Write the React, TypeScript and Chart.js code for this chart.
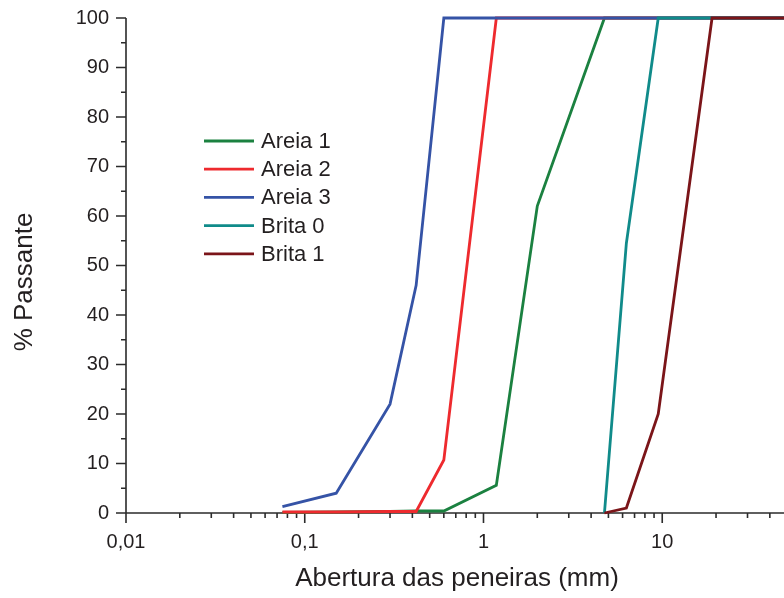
import React, { useEffect, useRef } from 'react';
import { Chart, registerables } from 'chart.js';

Chart.register(...registerables);

// ---- data ----
const sieveSizes = [0.075, 0.15, 0.3, 0.42, 0.6, 1.18, 2.0, 4.75, 6.3, 9.5, 19, 25, 37.5, 50];
const seriesLabels = ['Areia 1', 'Areia 2', 'Areia 3', 'Brita 0', 'Brita 1'];
const areia1 = [0.1, 0.2, 0.3, 0.4, 0.4, 5.6, 62, 100, 100, 100, 100, 100, 100, 100];
const areia2 = [0.2, 0.2, 0.3, 0.3, 10.7, 100, 100, 100, 100, 100, 100, 100, 100, 100];
const areia3 = [1.3, 4.0, 22, 46, 100, 100, 100, 100, 100, 100, 100, 100, 100, 100];
const brita0 = [null, null, null, null, null, null, null, 0, 54.5, 100, 100, 100, 100, 100];
const brita1 = [null, null, null, null, null, null, null, 0, 1, 20, 100, 100, 100, 100];
const seriesValues = [areia1, areia2, areia3, brita0, brita1];
const seriesColors = ['#1b8140', '#ee2a2e', '#3553a6', '#108b8a', '#7b1519'];

const xMajorTicks = [0.01, 0.1, 1, 10];
const xTickLabels = ['0,01', '0,1', '1', '10'];
const xMinorFactors = [2, 3, 4, 5, 6, 7, 8, 9];
const yMin = 0;
const yMax = 100;
const yMajorStep = 10;
const yMinorStep = 5;
const xMin = 0.01;
const xMax = 48;

const xTitle = 'Abertura das peneiras (mm)';
const yTitle = '% Passante';

const FONT = '"Liberation Sans", Arial, Helvetica, sans-serif';
const TEXT = '#231f20';
const AXIS = '#2b2b2b';

const allXTicks = (): { value: number; major: boolean }[] => {
  const out: { value: number; major: boolean }[] = [];
  xMajorTicks.forEach((m) => {
    out.push({ value: m, major: true });
    xMinorFactors.forEach((f) => {
      const v = m * f;
      if (v <= xMax) out.push({ value: v, major: false });
    });
  });
  return out;
};

const axesPlugin = {
  id: 'customAxes',
  beforeDatasetsDraw(chart: any) {
    const { ctx, chartArea, scales } = chart;
    const { left, right, top, bottom } = chartArea;
    ctx.save();
    ctx.strokeStyle = AXIS;
    ctx.lineWidth = 1.6;
    ctx.beginPath();
    ctx.moveTo(left, top);
    ctx.lineTo(left, bottom);
    ctx.moveTo(left, bottom);
    ctx.lineTo(right, bottom);
    for (let v = yMin; v <= yMax; v += yMinorStep) {
      const y = scales.y.getPixelForValue(v);
      const len = v % yMajorStep === 0 ? 10 : 5;
      ctx.moveTo(left, y);
      ctx.lineTo(left - len, y);
    }
    allXTicks().forEach((t) => {
      const x = scales.x.getPixelForValue(t.value);
      const len = t.major ? 10 : 5;
      ctx.moveTo(x, bottom);
      ctx.lineTo(x, bottom + len);
    });
    ctx.stroke();
    ctx.restore();
  },
};

const decorPlugin = {
  id: 'decor',
  afterDraw(chart: any) {
    const { ctx, chartArea } = chart;
    ctx.save();
    const lx0 = 204;
    const lx1 = 254;
    const ly0 = 141;
    const dy = 28.2;
    chart.data.datasets.forEach((ds: any, i: number) => {
      const y = ly0 + i * dy;
      ctx.strokeStyle = ds.borderColor;
      ctx.lineWidth = 2.8;
      ctx.beginPath();
      ctx.moveTo(lx0, y);
      ctx.lineTo(lx1, y);
      ctx.stroke();
      ctx.fillStyle = TEXT;
      ctx.font = `22px ${FONT}`;
      ctx.textAlign = 'left';
      ctx.textBaseline = 'middle';
      ctx.fillText(ds.label, 261, y + 1);
    });
    ctx.fillStyle = TEXT;
    ctx.font = `26px ${FONT}`;
    ctx.textAlign = 'center';
    ctx.textBaseline = 'middle';
    ctx.fillText(xTitle, (chartArea.left + chartArea.right) / 2 + 2, 579);
    ctx.translate(24.5, 282);
    ctx.rotate(-Math.PI / 2);
    ctx.fillText(yTitle, 0, 0);
    ctx.restore();
  },
};

export default function App() {
  const ref = useRef<HTMLCanvasElement | null>(null);
  useEffect(() => {
    if (!ref.current) return;
    const n = seriesLabels.length;
    const datasets = seriesLabels.map((label, i) => ({
      label,
      data: sieveSizes
        .map((x, j) => ({ x, y: seriesValues[i][j] }))
        .filter((p) => p.y !== null),
      borderColor: seriesColors[i],
      backgroundColor: seriesColors[i],
      borderWidth: 2.8,
      pointRadius: 0,
      tension: 0,
      fill: false,
      clip: false as any,
      order: n - i,
    }));
    const chart = new Chart(ref.current, {
      type: 'line',
      data: { datasets },
      options: {
        responsive: false,
        animation: false,
        devicePixelRatio: 1,
        layout: { padding: { top: 18, left: 0, right: 0, bottom: 0 } },
        plugins: { legend: { display: false }, tooltip: { enabled: false } },
        scales: {
          x: {
            type: 'logarithmic',
            min: xMin,
            max: xMax,
            grid: { display: false },
            border: { display: false },
            ticks: {
              autoSkip: false,
              maxRotation: 0,
              minRotation: 0,
              padding: 9,
              color: TEXT,
              font: { family: FONT, size: 20 },
              callback: (value: any) => {
                const v = Number(value);
                const idx = xMajorTicks.findIndex((m) => Math.abs(m - v) / m < 1e-9);
                return idx >= 0 ? xTickLabels[idx] : '';
              },
            },
            afterBuildTicks: (scale: any) => {
              scale.ticks = allXTicks().filter((t) => t.value >= xMin && t.value <= xMax);
            },
            afterFit: (scale: any) => {
              scale.height = 85;
              scale.paddingLeft = 0;
              scale.paddingRight = 0;
            },
          },
          y: {
            type: 'linear',
            min: yMin,
            max: yMax,
            grid: { display: false },
            border: { display: false },
            ticks: {
              stepSize: yMajorStep,
              padding: 9,
              color: TEXT,
              font: { family: FONT, size: 20 },
            },
            afterFit: (scale: any) => {
              scale.width = 126;
              scale.paddingTop = 0;
              scale.paddingBottom = 0;
            },
          },
        },
      },
      plugins: [axesPlugin, decorPlugin],
    });
    return () => chart.destroy();
  }, []);
  return (
    <div style={{ position: 'absolute', left: 0, top: 0, width: 784, height: 598, background: '#fff' }}>
      <canvas ref={ref} width={784} height={598} style={{ display: 'block' }} />
    </div>
  );
}
